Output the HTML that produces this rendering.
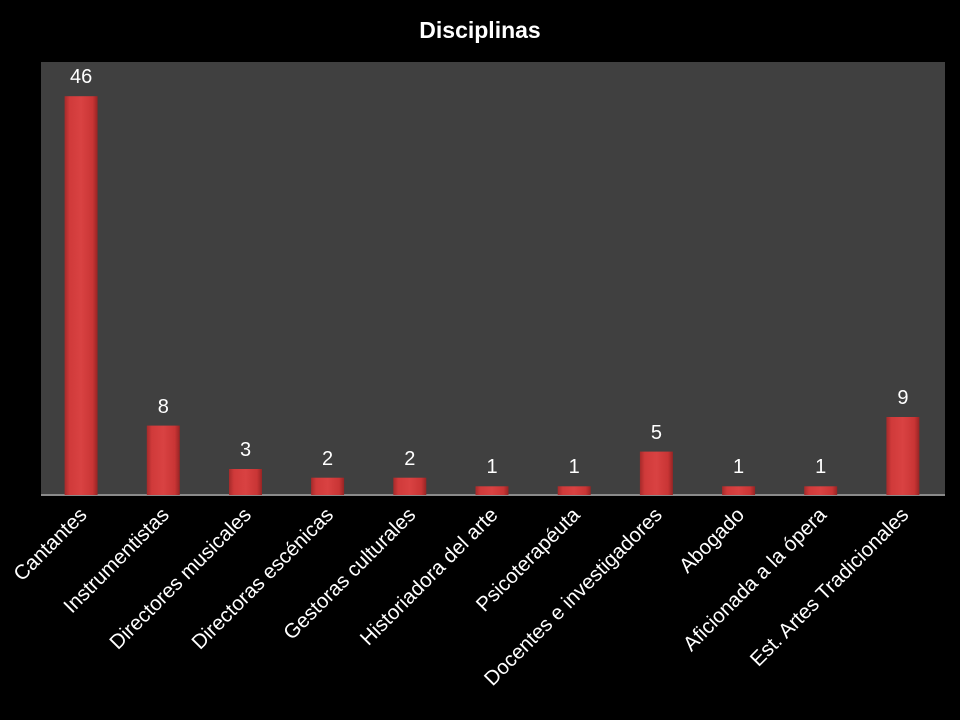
<!DOCTYPE html>
<html><head><meta charset="utf-8"><style>body{margin:0;background:#000}svg{display:block}</style></head>
<body>
<svg width="960" height="720" xmlns="http://www.w3.org/2000/svg" font-family="Liberation Sans, sans-serif">
<defs>
<linearGradient id="g" x1="0" x2="1" y1="0" y2="0">
<stop offset="0" stop-color="#a52a2a"/><stop offset="0.15" stop-color="#d03a3a"/><stop offset="0.5" stop-color="#d94242"/><stop offset="0.85" stop-color="#c93535"/><stop offset="1" stop-color="#962424"/>
</linearGradient>
</defs>
<rect width="960" height="720" fill="#000"/>
<rect x="41" y="62" width="904" height="433" fill="#404040"/>
<line x1="41" y1="495" x2="945" y2="495" stroke="#8a8a8a" stroke-width="2"/>
<text x="480" y="38" text-anchor="middle" fill="#fff" font-size="23" font-weight="bold">Disciplinas</text>
<g fill="url(#g)">
<rect x="64.6" y="96.2" width="33" height="398.8"/>
<rect x="146.8" y="425.6" width="33" height="69.4"/>
<rect x="229" y="469" width="33" height="26"/>
<rect x="311.1" y="477.7" width="33" height="17.3"/>
<rect x="393.3" y="477.7" width="33" height="17.3"/>
<rect x="475.5" y="486.3" width="33" height="8.7"/>
<rect x="557.7" y="486.3" width="33" height="8.7"/>
<rect x="639.9" y="451.6" width="33" height="43.4"/>
<rect x="722.1" y="486.3" width="33" height="8.7"/>
<rect x="804.2" y="486.3" width="33" height="8.7"/>
<rect x="886.4" y="417" width="33" height="78"/>
</g>
<g fill="#fff" font-size="20" text-anchor="middle">
<text x="81.1" y="83">46</text>
<text x="163.3" y="413">8</text>
<text x="245.5" y="456">3</text>
<text x="327.6" y="465">2</text>
<text x="409.8" y="465">2</text>
<text x="492" y="473">1</text>
<text x="574.2" y="473">1</text>
<text x="656.4" y="439">5</text>
<text x="738.6" y="473">1</text>
<text x="820.7" y="473">1</text>
<text x="902.9" y="404">9</text>
</g>
<g fill="#fff" font-size="20.5" text-anchor="end">
<text x="88" y="516" transform="rotate(-45 88 516)">Cantantes</text>
<text x="170.2" y="516" transform="rotate(-45 170.2 516)">Instrumentistas</text>
<text x="252.4" y="516" transform="rotate(-45 252.4 516)">Directores musicales</text>
<text x="334.5" y="516" transform="rotate(-45 334.5 516)">Directoras escénicas</text>
<text x="416.7" y="516" transform="rotate(-45 416.7 516)">Gestoras culturales</text>
<text x="498.9" y="516" transform="rotate(-45 498.9 516)">Historiadora del arte</text>
<text x="581.1" y="516" transform="rotate(-45 581.1 516)">Psicoterapéuta</text>
<text x="663.3" y="516" transform="rotate(-45 663.3 516)">Docentes e investigadores</text>
<text x="745.5" y="516" transform="rotate(-45 745.5 516)">Abogado</text>
<text x="827.6" y="516" transform="rotate(-45 827.6 516)">Aficionada a la ópera</text>
<text x="909.8" y="516" transform="rotate(-45 909.8 516)">Est. Artes Tradicionales</text>
</g>
</svg>
</body></html>
